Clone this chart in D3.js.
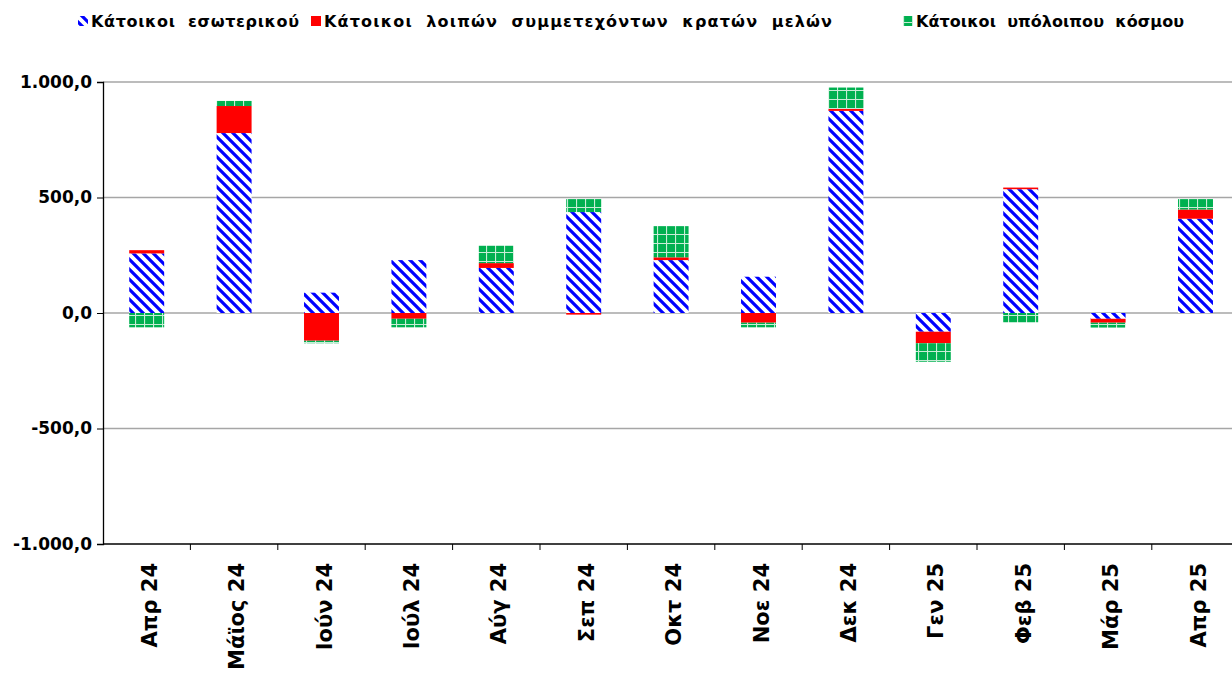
<!DOCTYPE html>
<html lang="el">
<head>
<meta charset="utf-8">
<script src="https://d3js.org/d3.v7.min.js"></script>
<style>
  body { margin: 0; background: #fff; }
  svg { display: block; font-family: "DejaVu Sans", Verdana, sans-serif; }
</style>
</head>
<body>
<script>
// categories and series
const months = ["Απρ 24", "Μάϊος 24", "Ιούν 24", "Ιούλ 24", "Αύγ 24", "Σεπ 24", "Οκτ 24",
                "Νοε 24", "Δεκ 24", "Γεν 25", "Φεβ 25", "Μάρ 25", "Απρ 25"];
const domestic = [258, 779, 88, 229, 195, 437, 229, 157, 875, -81, 536, -25, 408];
const memberStates = [14, 117, -120, -25, 21, -7, 12, -42, 8, -50, 7, -17, 40];
const restOfWorld = [-62, 22, -11, -37, 75, 56, 135, -20, 93, -80, -40, -21, 45];
const yTicks = [-1000, -500, 0, 500, 1000];
const seriesNames = ["Κάτοικοι  εσωτερικού", "Κάτοικοι  λοιπών  συμμετεχόντων  κρατών  μελών", "Κάτοικοι  υπόλοιπου  κόσμου"];

const W = 1232, H = 678;
const plotLeft = 103, plotTop = 82, plotBottom = 544;
const plotRight = plotLeft + 13 * 87.4;

const svg = d3.select("body").append("svg").attr("width", W).attr("height", H);

// patterns
const defs = svg.append("defs");
const stripes = defs.append("pattern")
  .attr("id", "stripes").attr("patternUnits", "userSpaceOnUse")
  .attr("width", 10).attr("height", 10);
stripes.append("rect").attr("width", 10).attr("height", 10).attr("fill", "#fff");
stripes.append("path")
  .attr("d", "M0,0L10,10M-5,5L5,15M5,-5L15,5")
  .attr("stroke", "#0000ff").attr("stroke-width", 3.2);

const grid = defs.append("pattern")
  .attr("id", "grid").attr("patternUnits", "userSpaceOnUse")
  .attr("width", 9).attr("height", 9);
grid.append("rect").attr("width", 9).attr("height", 9).attr("fill", "#00b050");
grid.append("path").attr("d", "M0,0.5H9M0.5,0V9")
  .attr("stroke", "#c8ecd6").attr("stroke-width", 1.2);

const fills = ["url(#stripes)", "#ff0000", "url(#grid)"];

// scales
const x = d3.scaleBand().domain(months).range([plotLeft, plotRight]).paddingInner(0.6).paddingOuter(0.3);
const xTicks = d3.scaleBand().domain(months).range([plotLeft, plotRight]);
const y = d3.scaleLinear().domain([-1000, 1000]).range([plotBottom, plotTop]);

// gridlines
svg.append("g").selectAll("line").data(yTicks.filter(d => d !== -1000)).join("line")
  .attr("x1", plotLeft).attr("x2", W)
  .attr("y1", d => y(d)).attr("y2", d => y(d))
  .attr("stroke", "#a6a6a6").attr("stroke-width", 1.6);

// stacked bars (positives and negatives stacked separately)
const data = months.map((m, i) => ({ month: m, vals: [domestic[i], memberStates[i], restOfWorld[i]] }));
const segs = [];
data.forEach(d => {
  let pos = 0, neg = 0;
  d.vals.forEach((v, k) => {
    if (v >= 0) { segs.push({ month: d.month, k, y0: pos, y1: pos + v }); pos += v; }
    else { segs.push({ month: d.month, k, y0: neg + v, y1: neg }); neg += v; }
  });
});

svg.append("g").selectAll("rect").data(segs).join("rect")
  .attr("x", d => x(d.month))
  .attr("width", x.bandwidth())
  .attr("y", d => y(d.y1))
  .attr("height", d => y(d.y0) - y(d.y1))
  .attr("fill", d => fills[d.k]);

// greek number format: 1.000,0 and plain hyphen for minus
const fmt = d => (d < 0 ? "-" : "") + d3.format(",.1f")(Math.abs(d)).replace(/,/g, "X").replace(".", ",").replace(/X/g, ".");

// y axis
const yAxis = svg.append("g").attr("transform", `translate(${plotLeft},0)`)
  .call(d3.axisLeft(y).tickValues(yTicks).tickSize(6).tickPadding(5).tickFormat(fmt));
yAxis.select(".domain").attr("stroke", "#000").attr("stroke-width", 1.3);
yAxis.selectAll(".tick line").attr("stroke", "#000");
yAxis.selectAll("text").attr("font-size", 17).attr("font-weight", "bold").attr("fill", "#000")
  .attr("font-family", "DejaVu Sans, Verdana, sans-serif");

// x axis
const xAxis = svg.append("g").attr("transform", `translate(0,${plotBottom})`);
xAxis.append("line").attr("x1", plotLeft).attr("x2", W).attr("stroke", "#000").attr("stroke-width", 1.3);
xAxis.selectAll(".tk").data(months.slice(1)).join("line").attr("class", "tk")
  .attr("x1", d => xTicks(d)).attr("x2", d => xTicks(d))
  .attr("y1", 0).attr("y2", 6).attr("stroke", "#000");
xAxis.selectAll("text").data(months).join("text")
  .attr("transform", d => `translate(${xTicks(d) + xTicks.bandwidth() / 2 + 10},19) rotate(-90)`)
  .attr("text-anchor", "end")
  .attr("font-size", 21).attr("font-weight", "bold").attr("fill", "#000")
  .text(d => d);

// legend
const legendX = [78, 311, 903];
const legendLen = [208, 508, 268];
const legend = svg.append("g").selectAll("g").data(seriesNames).join("g")
  .attr("transform", (d, i) => `translate(${legendX[i]},22)`);
legend.append("rect").attr("x", 0).attr("y", -6).attr("width", 10).attr("height", 10)
  .attr("fill", (d, i) => fills[i]);
legend.append("text").attr("x", 13).attr("y", 5)
  .attr("font-size", 16).attr("font-weight", "bold").attr("fill", "#000")
  .attr("textLength", (d, i) => legendLen[i]).attr("lengthAdjust", "spacing")
  .style("white-space", "pre")
  .text(d => d);
</script>
</body>
</html>
